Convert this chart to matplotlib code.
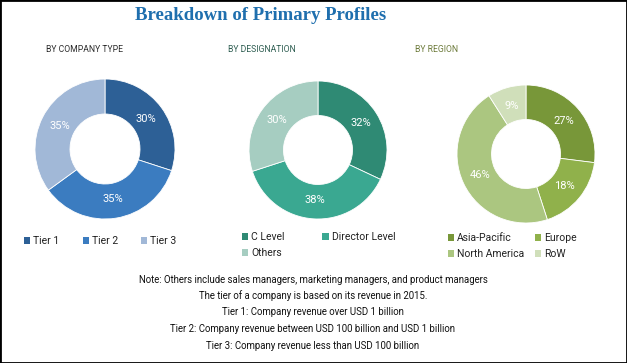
import matplotlib
matplotlib.use("Agg")
import matplotlib.pyplot as plt
from matplotlib.patches import Rectangle
import numpy as np

NARROW = "Roboto"

# ---------------- data ----------------
company_labels = ["Tier 1", "Tier 2", "Tier 3"]
company_values = [30, 35, 35]
company_colors = ["#2d6096", "#3b7cc0", "#a1b8d7"]

designation_labels = ["C Level", "Director Level", "Others"]
designation_values = [32, 38, 30]
designation_colors = ["#2f8a74", "#3aa891", "#a6cdc1"]

region_labels = ["Asia-Pacific", "Europe", "North America", "RoW"]
region_values = [27, 18, 46, 9]
region_colors = ["#789739", "#90b14b", "#abc680", "#d0dfba"]

title = "Breakdown of Primary Profiles"
subtitles = ["BY COMPANY TYPE", "BY DESIGNATION", "BY REGION"]
notes = [
    "Note: Others include sales managers, marketing managers, and product managers",
    "The tier of a company is based on its revenue in 2015.",
    "Tier 1: Company revenue over USD 1 billion",
    "Tier 2: Company revenue between USD 100 billion and USD 1 billion",
    "Tier 3: Company revenue less than USD 100 billion",
]

W, H = 627, 363
fig = plt.figure(figsize=(W / 100, H / 100), dpi=100)

def fx(x):
    return x / W

def fy(y):
    return 1 - y / H

# border
fig.patches.append(Rectangle((0, 0), 1, 1, transform=fig.transFigure, fill=False,
                             edgecolor="black", linewidth=2))

fig.text(fx(261), fy(16), title, ha="center", va="center", fontsize=13.5,
         fontweight="bold", family="Liberation Serif", color="#1f6fae")

sub_pos = [(85, "#2b2b2b"), (262, "#2f5e52"), (437, "#6d7b3b")]
for s, (x, c) in zip(subtitles, sub_pos):
    fig.text(fx(x), fy(50), s, ha="center", va="center", fontsize=6.2,
             family=NARROW, color=c)

def donut(cx, cy, r, values, colors, labels, leg_order, leg_anchor, ncol, colsp):
    ax = fig.add_axes([fx(cx - r), fy(cy + r), 2 * r / W, 2 * r / H])
    wedges, _ = ax.pie(values, colors=colors, startangle=90, counterclock=False,
                       radius=1, wedgeprops=dict(width=0.5, edgecolor="white", linewidth=0.6))
    total = sum(values)
    start = 90
    for v in values:
        mid = start - v / total * 360 / 2
        ang = np.deg2rad(mid)
        ax.text(0.73 * np.cos(ang), 0.73 * np.sin(ang), f"{v}%", ha="center", va="center",
                color="white", fontsize=8, family=NARROW)
        start -= v / total * 360
    ax.set_xlim(-1, 1)
    ax.set_ylim(-1, 1)
    ax.set_aspect("equal")
    ax.axis("off")
    hs = [wedges[i] for i in leg_order]
    ls = [labels[i] for i in leg_order]
    leg = fig.legend(hs, ls, loc="upper left", bbox_to_anchor=(fx(leg_anchor[0]), fy(leg_anchor[1])),
                     ncol=ncol, frameon=False, handlelength=0.6, handleheight=0.6,
                     handletextpad=0.3, columnspacing=colsp, labelspacing=0.6,
                     prop=dict(family=NARROW, size=7.5), borderaxespad=0, borderpad=0)
    for t in leg.get_texts():
        t.set_color("#222222")
    for p in leg.get_patches():
        p.set_edgecolor("none")
    return ax

donut(105, 149, 70, company_values, company_colors, company_labels, [0, 1, 2], (24, 236), 3, 2.2)
donut(318, 150, 69, designation_values, designation_colors, designation_labels, [0, 2, 1], (242, 232), 2, 3.6)
donut(526, 154, 69, region_values, region_colors, region_labels, [0, 2, 1, 3], (448, 233), 2, 1.0)

note_y = [280, 296, 312, 329, 346]
for t, y in zip(notes, note_y):
    fig.text(fx(313), fy(y), t, ha="center", va="center", fontsize=6.9,
             family=NARROW, color="#111111")

fig.savefig("out.png", dpi=100)
